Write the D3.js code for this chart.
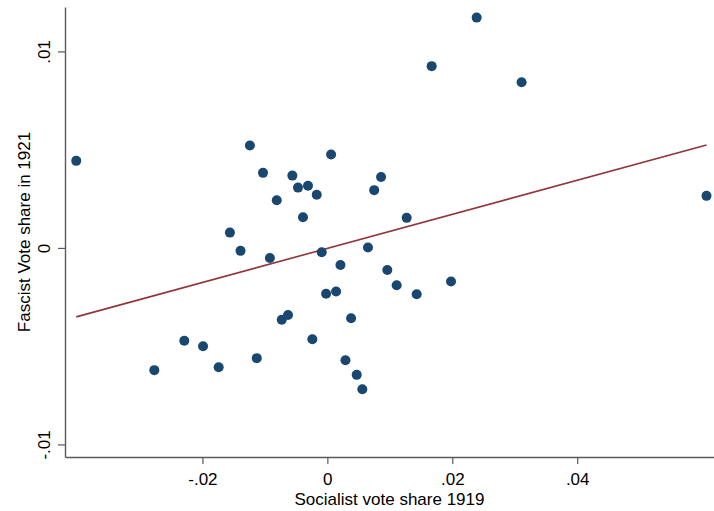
<!DOCTYPE html>
<html>
<head>
<meta charset="utf-8">
<script src="https://cdn.jsdelivr.net/npm/d3@7"></script>
<style>
  body { margin: 0; background: #fff; }
  svg { display: block; font-family: "Liberation Sans", Arial, Helvetica, sans-serif; }
</style>
</head>
<body>
<svg width="714" height="511"></svg>
<script>
// Data (residualised vote shares)
const socialist1919 = [-0.0402, -0.0124, -0.0103, -0.0056, -0.0047, -0.0031, -0.0017, -0.0081, 0.0006, 0.0075,
    0.0086, -0.0039, -0.0156, 0.0239, 0.0167, 0.0311, 0.0127, 0.0607, -0.0139, -0.0092,
    -0.0009, 0.0021, 0.0065, 0.0096, -0.0002, 0.0014, -0.0073, -0.0063, 0.0038, -0.0229,
    -0.0199, -0.0277, -0.0174, -0.0113, -0.0024, 0.0029, 0.0047, 0.0056, 0.0111, 0.0143,
    0.0198]
const fascist1921 = [0.00443, 0.00521, 0.00382, 0.00368, 0.00307, 0.00316, 0.00271, 0.00243, 0.00475, 0.00294,
    0.00361, 0.00156, 0.00078, 0.01172, 0.00925, 0.00843, 0.00153, 0.00265, -0.00015, -0.00051,
    -0.00022, -0.00087, 0.00002, -0.00112, -0.00233, -0.00222, -0.00366, -0.00341, -0.00358, -0.00472,
    -0.00500, -0.00622, -0.00607, -0.00561, -0.00465, -0.00572, -0.00646, -0.00719, -0.00190, -0.00236,
    -0.00171]

// Fitted line (end points)
const fitX = [-0.0402, 0.0607]
const fitY = [-0.00351, 0.00524]

const xTicks = [-0.02, 0, 0.02, 0.04]
const xTickLabels = ["-.02", "0", ".02", ".04"]
const yTicks = [-0.01, 0, 0.01]
const yTickLabels = ["-.01", "0", ".01"]

const svg = d3.select("svg")

// Scales
const x = d3.scaleLinear().domain([-0.042, 0.0619]).range([65, 714])
const y = d3.scaleLinear().domain([-0.01064, 0.01226]).range([457, 7])

const axisColor = "#5a5a5a"

// X axis
const xAxis = svg.append("g")
    .attr("transform", "translate(0,457)")
    .call(d3.axisBottom(x).tickValues(xTicks).tickSize(7).tickSizeOuter(0)
        .tickFormat((d, i) => xTickLabels[i]))
xAxis.select(".domain").attr("stroke", axisColor).attr("stroke-width", 1.4)
xAxis.selectAll(".tick line").attr("stroke", axisColor).attr("stroke-width", 1.2)
xAxis.selectAll(".tick text").attr("font-size", 17).attr("fill", "#000").attr("dy", null).attr("y", 28)
xAxis.attr("font-family", null)

// Y axis
const yAxis = svg.append("g")
    .attr("transform", "translate(65,0)")
    .call(d3.axisLeft(y).tickValues(yTicks).tickSize(7).tickSizeOuter(0)
        .tickFormat((d, i) => yTickLabels[i]))
yAxis.select(".domain").attr("stroke", axisColor).attr("stroke-width", 1.4)
yAxis.selectAll(".tick line").attr("stroke", axisColor).attr("stroke-width", 1.2)
yAxis.selectAll(".tick text")
    .attr("font-size", 17).attr("fill", "#000")
    .attr("x", null).attr("dy", null)
    .attr("text-anchor", "middle")
    .attr("transform", "translate(-15,0) rotate(-90)")
yAxis.attr("font-family", null)

// Fitted line
svg.append("path")
    .datum(fitX.map((v, i) => [v, fitY[i]]))
    .attr("fill", "none")
    .attr("stroke", "#90353b")
    .attr("stroke-width", 1.6)
    .attr("d", d3.line().x(d => x(d[0])).y(d => y(d[1])))

// Points
svg.append("g")
    .selectAll("circle")
    .data(socialist1919.map((v, i) => [v, fascist1921[i]]))
    .join("circle")
    .attr("cx", d => x(d[0]))
    .attr("cy", d => y(d[1]))
    .attr("r", 5)
    .attr("fill", "#1a476f")

// Axis titles
svg.append("text")
    .attr("x", (65 + 714) / 2)
    .attr("y", 505)
    .attr("text-anchor", "middle")
    .attr("font-size", 17)
    .text("Socialist vote share 1919")

svg.append("text")
    .attr("transform", "translate(30," + (7 + 457) / 2 + ") rotate(-90)")
    .attr("text-anchor", "middle")
    .attr("font-size", 17)
    .text("Fascist Vote share in 1921")
</script>
</body>
</html>
